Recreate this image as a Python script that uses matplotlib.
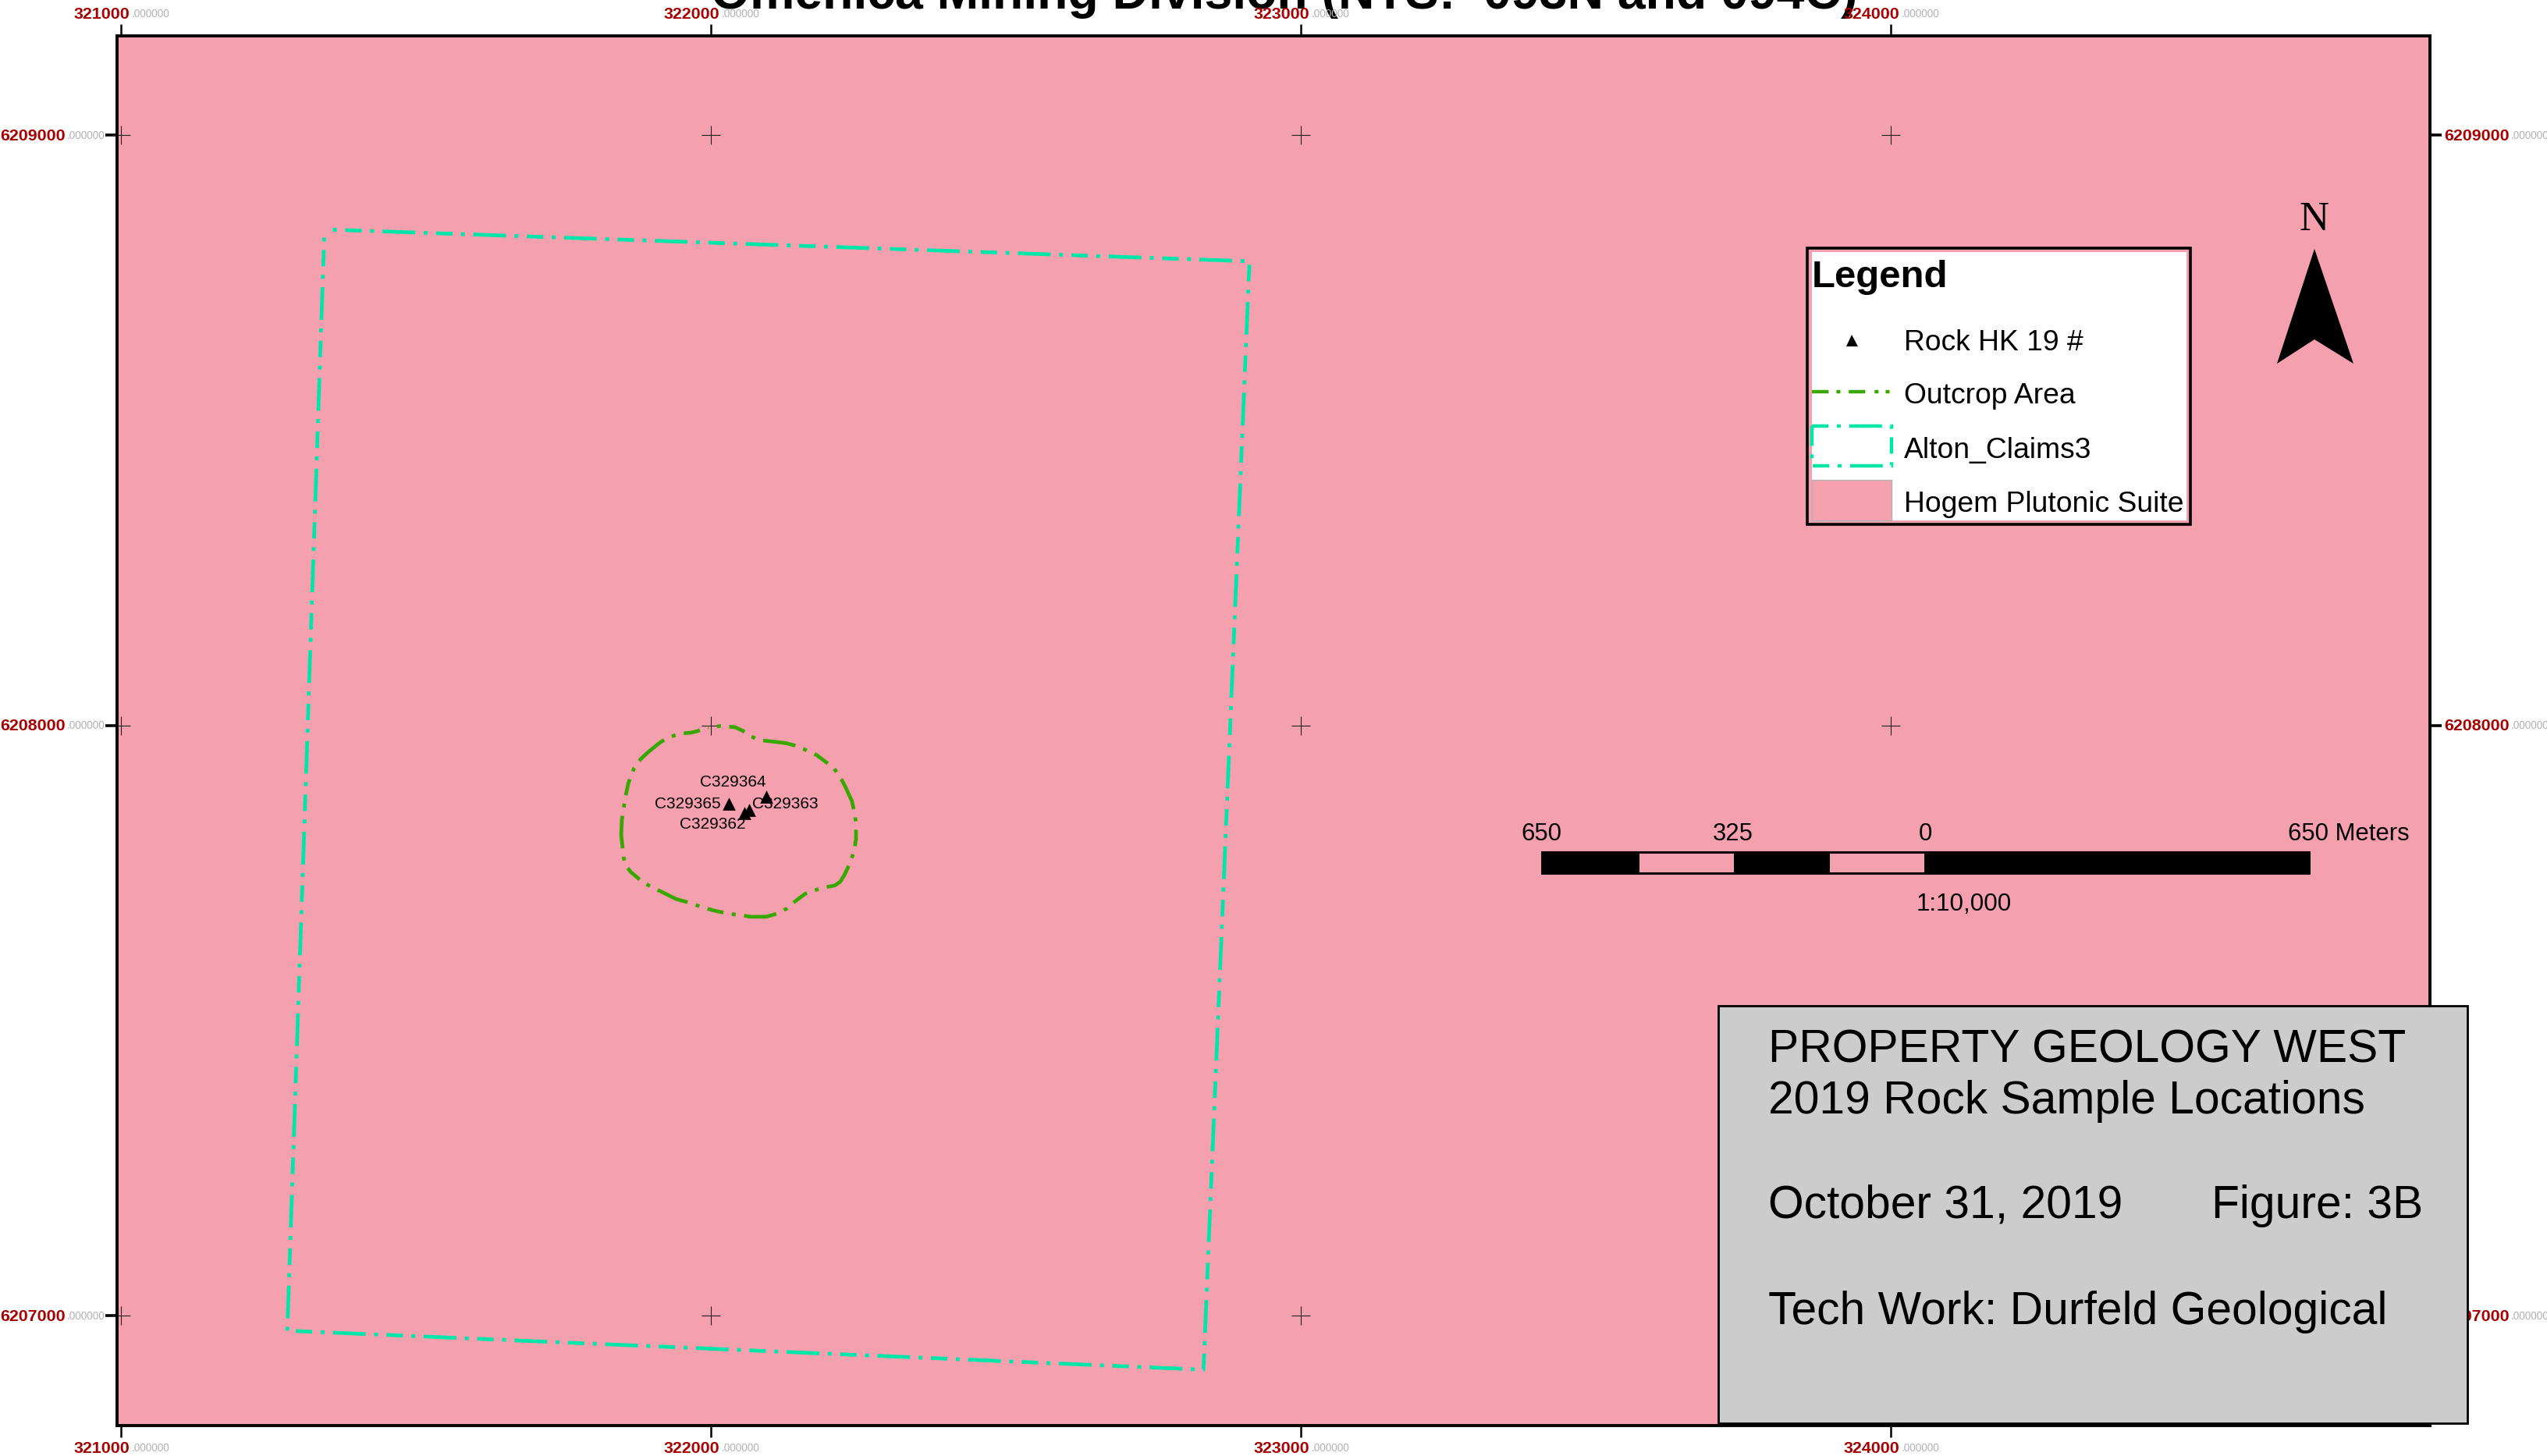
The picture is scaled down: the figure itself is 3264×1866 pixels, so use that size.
import matplotlib
matplotlib.use('Agg')
import matplotlib.pyplot as plt
from matplotlib.patches import Rectangle, Polygon

# Coordenadas de la cuadricula (UTM)
x_ticks = [321000, 322000, 323000, 324000]
y_ticks = [6209000, 6208000, 6207000]

# Poligono de las concesiones
claims_x = [321345, 322913, 322835, 321282, 321345]
claims_y = [6208840, 6208786, 6206909, 6206975, 6208840]

# Contorno del afloramiento
outcrop_x = [321996, 322016, 322041, 322054, 322065, 322082, 322102, 322127, 322146, 322164,
             322179, 322199, 322208, 322219, 322228, 322239, 322243, 322246, 322246, 322243,
             322235, 322226, 322219, 322210, 322190, 322173, 322160, 322144, 322129, 322111,
             322094, 322067, 322049, 322030, 322003, 321977, 321959, 321941, 321919, 321902,
             321884, 321864, 321855, 321852, 321850, 321848, 321849, 321852, 321855, 321860,
             321870, 321881, 321895, 321915, 321932, 321948, 321968, 321979, 321996]
outcrop_y = [6207997, 6207999, 6207997, 6207991, 6207983, 6207975, 6207973, 6207970, 6207965, 6207957,
             6207950, 6207935, 6207928, 6207913, 6207896, 6207872, 6207854, 6207836, 6207808, 6207788,
             6207765, 6207746, 6207735, 6207729, 6207725, 6207720, 6207715, 6207703, 6207690, 6207681,
             6207676, 6207676, 6207679, 6207681, 6207687, 6207695, 6207701, 6207706, 6207717, 6207725,
             6207735, 6207752, 6207764, 6207777, 6207796, 6207814, 6207839, 6207858, 6207878, 6207902,
             6207928, 6207943, 6207956, 6207972, 6207981, 6207986, 6207988, 6207991, 6207997]

# Muestras de roca
sample_names = ['C329364', 'C329365', 'C329363', 'C329362']
sample_x = [322094, 322031, 322065, 322057]
sample_y = [6207879, 6207868, 6207857, 6207852]

title_text = 'Omenica Mining Division (NTS:  093N and 094C)'
legend_labels = ['Rock HK 19 #', 'Outcrop Area', 'Alton_Claims3', 'Hogem Plutonic Suite']
scale_labels = ['650', '325', '0']
box_lines = ['PROPERTY GEOLOGY WEST', '2019 Rock Sample Locations', 'October 31, 2019',
             'Figure: 3B', 'Tech Work: Durfeld Geological']

PINK = '#F5A0AE'
GREEN = '#38A800'
TEAL = '#00E6A9'
RED = '#A80000'
GREY = '#B2B2B2'
W, H = 3264, 1866

plt.rcParams['font.family'] = ['Liberation Sans', 'DejaVu Sans']
plt.rcParams['lines.scale_dashes'] = False
# raya corta, punto, raya larga, punto
map_dash = (32.3, (7.6, 3.9, 1.8, 3.9, 15.1, 3.9, 1.8, 3.9))

fig = plt.figure(figsize=(W / 200, H / 200), dpi=200)

# Mapa principal
left, right, top, bottom = 150, 3114, 46.5, 1826.5
ax = fig.add_axes([left / W, 1 - bottom / H, (right - left) / W, (bottom - top) / H])
ax.set_zorder(1)
ax.set_facecolor(PINK)
ax.set_xlim(320993.4, 324914)
ax.set_ylim(6206815, 6209167)
for s in ax.spines.values():
    s.set_linewidth(1.4)

ax.set_xticks(x_ticks)
ax.set_yticks(y_ticks)
ax.tick_params(axis='x', top=True, bottom=True, labelbottom=False, length=5.4, width=0.9)
ax.tick_params(axis='y', left=True, right=True, labelleft=False, length=5.4, width=1.3)

# Cruces de la cuadricula
for gx in x_ticks:
    for gy in y_ticks:
        ax.plot(gx, gy, marker='+', ms=8.6, mew=0.4, color='#222222', clip_on=False, zorder=2)

ax.plot(claims_x, claims_y, color=TEAL, lw=1.7, ls=map_dash, dash_capstyle='butt', zorder=3)
ax.plot(outcrop_x, outcrop_y, color=GREEN, lw=1.7, ls=map_dash, dash_capstyle='butt', zorder=3)
ax.scatter(sample_x, sample_y, marker='^', s=36, color='black', linewidths=0, zorder=4)

# Capa superior en pixeles para etiquetas, leyenda y cuadro
ov = fig.add_axes([0, 0, 1, 1])
ov.set_zorder(2)
ov.set_xlim(0, W)
ov.set_ylim(H, 0)
ov.axis('off')


def coord_label(px_x, px_y, value):
    # etiqueta en dos partes: numero rojo y decimales grises
    t = ov.text(px_x, px_y, str(value), color=RED, fontsize=7.7, fontweight='bold',
                ha='left', va='baseline', zorder=1)
    r = t.get_window_extent(fig.canvas.get_renderer())
    ov.text(px_x + r.width + 2, px_y - 2, '.000000', color=GREY, fontsize=4.9,
            ha='left', va='baseline', zorder=1)


fig.text(1646 / W, 1 - 11 / H, title_text, fontsize=23.2, fontweight='bold', ha='center', va='baseline',
         zorder=0)

xt_px = [155, 911, 1667, 2423]
yt_px = [173, 929.5, 1686]
for v, p in zip(x_ticks, xt_px):
    coord_label(p - 60, 24, v)
    coord_label(p - 60, 1862, v)
for v, p in zip(y_ticks, yt_px):
    coord_label(0, p + 7, v)
    coord_label(3132, p + 7, v)

# Etiquetas de las muestras
sample_pos = [(897, 1008), (839, 1036), (964, 1036), (871, 1062)]
for name, (px, py) in zip(sample_names, sample_pos):
    ov.text(px, py, name, fontsize=7.5, ha='left', va='baseline', zorder=3)

# Leyenda
ov.add_patch(Rectangle((2316, 318), 491, 354, fc=PINK, ec='black', lw=1.3, zorder=2))
ov.add_patch(Rectangle((2322, 323), 480, 344, fc='white', ec='none', zorder=3))
ov.text(2322, 368, 'Legend', fontsize=17.7, fontweight='bold', ha='left', va='baseline', zorder=4)
ov.plot([2373], [436], marker='^', ms=5.4, mew=0, color='black', zorder=4)
ov.plot([2322, 2424], [502, 502], color=GREEN, lw=1.6, ls=(0, (7.7, 3.6, 1.8, 3.9, 7.6, 4.3, 1.8, 3.3, 1.8)),
        dash_capstyle='butt', zorder=4)
ov.add_patch(Rectangle((2322, 546), 102, 51, fc='none', ec=TEAL, lw=1.6,
                       ls=(0, (7.6, 3.9, 1.8, 3.9, 15.1, 3.9, 1.8, 3.9)), zorder=4))
ov.add_patch(Rectangle((2322, 615), 102, 52, fc=PINK, ec='#B2B2B2', lw=0.5, zorder=4))
for label, base in zip(legend_labels, [449, 517, 587, 656]):
    ov.text(2440, base, label, fontsize=13.4, ha='left', va='baseline', zorder=5)

# Barra de escala
ov.add_patch(Rectangle((1975, 1091), 986, 30, fc='black', ec='none', zorder=2))
for x0 in [2100.5, 2345]:
    ov.add_patch(Rectangle((x0, 1093.5), 121, 24.5, fc=PINK, ec='none', zorder=3))
for label, px in zip(scale_labels, [1975, 2221, 2467]):
    ov.text(px, 1077, label, fontsize=11.2, ha='center', va='baseline', zorder=3)
ov.text(2932, 1077, '650 Meters', fontsize=11.2, ha='left', va='baseline', zorder=3)
ov.text(2456, 1167, '1:10,000', fontsize=11.3, ha='left', va='baseline', zorder=3)

# Flecha de norte
ov.add_patch(Polygon([(2966, 319), (3016, 466), (2966, 435), (2918, 466)], closed=True, fc='black', ec='none', zorder=3))
ov.text(2966, 295, 'N', fontsize=19, family='Liberation Serif', ha='center', va='baseline', zorder=3)

# Cuadro de titulo
ov.add_patch(Rectangle((2202, 1289), 960, 535, fc='#CCCCCC', ec='black', lw=1, zorder=6))
box_pos = [(2266, 1361), (2266, 1427), (2266, 1561), (2834, 1561), (2266, 1697)]
for line, (px, py) in zip(box_lines, box_pos):
    ov.text(px, py, line, fontsize=21.15, ha='left', va='baseline', zorder=7)

fig.savefig('out.png', dpi=200)
